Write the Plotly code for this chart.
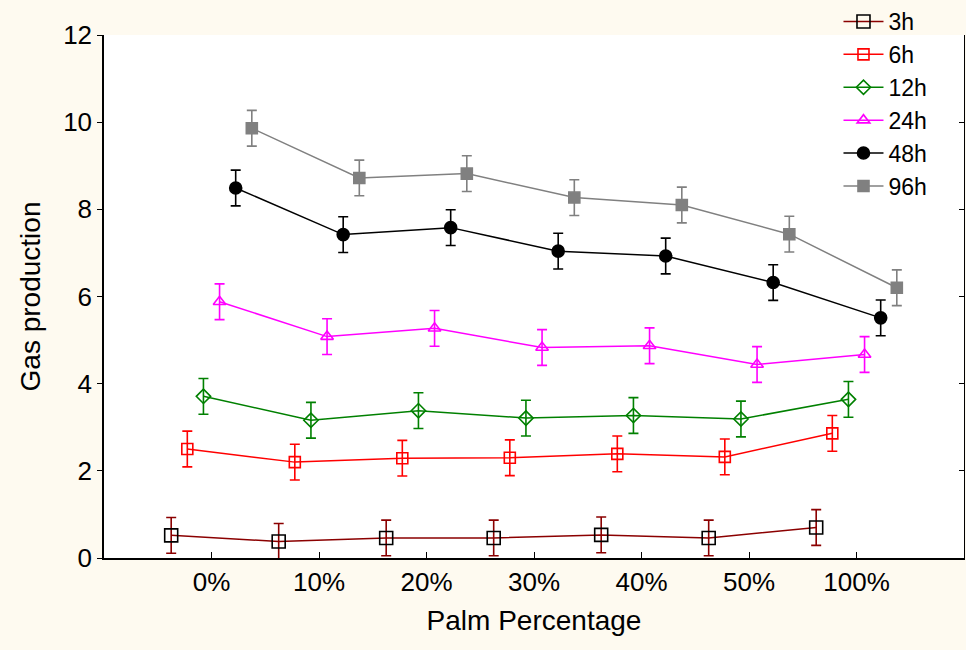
import plotly.graph_objects as go

categories = ["0%", "10%", "20%", "30%", "40%", "50%", "100%"]
series_names = ["3h", "6h", "12h", "24h", "48h", "96h"]

gas_3h = [0.52, 0.38, 0.46, 0.46, 0.53, 0.46, 0.70]
gas_6h = [2.50, 2.20, 2.29, 2.30, 2.39, 2.32, 2.86]
gas_12h = [3.71, 3.16, 3.38, 3.21, 3.27, 3.19, 3.64]
gas_24h = [5.88, 5.08, 5.27, 4.83, 4.87, 4.44, 4.67]
gas_48h = [8.49, 7.42, 7.58, 7.04, 6.93, 6.32, 5.51]
gas_96h = [9.86, 8.72, 8.82, 8.27, 8.10, 7.43, 6.20]

err_3h = [0.41, 0.41, 0.41, 0.41, 0.41, 0.41, 0.41]
err_6h = [0.41, 0.41, 0.41, 0.41, 0.41, 0.41, 0.41]
err_12h = [0.41, 0.41, 0.41, 0.41, 0.41, 0.41, 0.41]
err_24h = [0.41, 0.41, 0.41, 0.41, 0.41, 0.41, 0.41]
err_48h = [0.41, 0.41, 0.41, 0.41, 0.41, 0.41, 0.41]
err_96h = [0.41, 0.41, 0.41, 0.41, 0.41, 0.41, 0.41]

values = [gas_3h, gas_6h, gas_12h, gas_24h, gas_48h, gas_96h]
errors = [err_3h, err_6h, err_12h, err_24h, err_48h, err_96h]
offsets = [-0.375, -0.225, -0.075, 0.075, 0.225, 0.375]

line_colors = ["#8B0000", "#FF0000", "#008000", "#FF00FF", "#000000", "#808080"]
marker_colors = ["#000000", "#FF0000", "#008000", "#FF00FF", "#000000", "#808080"]
symbols = ["square-open", "square-open", "diamond-open", "triangle-up-open", "circle", "square"]
sizes = [13, 11, 11, 11, 12, 11]

FONT = "Liberation Sans, Arial, sans-serif"
BG = "#FEFAF0"

fig = go.Figure()
for name, vals, errs, off, lc, mc, sym, sz in zip(series_names, values, errors, offsets,
                                                  line_colors, marker_colors, symbols, sizes):
    xs = [i + off for i in range(len(categories))]
    fig.add_trace(go.Scatter(
        x=xs, y=vals, name=name, mode="lines+markers",
        line=dict(color=lc, width=1.5),
        marker=dict(symbol=sym, size=sz, color=mc, line=dict(color=mc, width=1.6)),
        error_y=dict(type="data", array=errs, visible=True, color=lc, thickness=1.6, width=5),
    ))

# invisible trace to host the mirrored right axis
fig.add_trace(go.Scatter(x=[None], y=[None], yaxis="y2", showlegend=False, hoverinfo="skip"))

fig.update_layout(
    width=966, height=650,
    paper_bgcolor=BG, plot_bgcolor="#FFFFFF",
    margin=dict(l=104, r=2, t=35, b=92, autoexpand=False),
    font=dict(family=FONT, size=26, color="#000000"),
    xaxis=dict(
        range=[-1, 7], tickvals=list(range(len(categories))), ticktext=categories,
        ticks="inside", ticklen=6, tickcolor="#000000", tickwidth=1,
        showline=True, linecolor="#000000", linewidth=1.5,
        showgrid=False, zeroline=False, automargin=False,
        title=dict(text="Palm Percentage", font=dict(size=28), standoff=14),
        tickfont=dict(size=26),
    ),
    yaxis=dict(
        range=[0, 12], tickvals=[0, 2, 4, 6, 8, 10, 12],
        ticks="outside", ticklen=5, tickcolor="#000000", tickwidth=1,
        showline=True, linecolor="#000000", linewidth=1.5,
        showgrid=False, zeroline=False, automargin=False,
        title=dict(text="Gas production", font=dict(size=28), standoff=14),
        tickfont=dict(size=26),
    ),
    yaxis2=dict(
        range=[0, 12], tickvals=[0, 2, 4, 6, 8, 10, 12], overlaying="y", side="right",
        ticks="inside", ticklen=5, tickcolor="#000000",
        showline=True, linecolor="#000000", linewidth=1,
        showticklabels=False, showgrid=False, zeroline=False, automargin=False,
    ),
    legend=dict(
        xref="container", yref="container",
        x=0.868, y=1.0, xanchor="left", yanchor="top",
        bgcolor="rgba(0,0,0,0)", font=dict(size=23),
        tracegroupgap=0, itemwidth=40,
    ),
    showlegend=True,
)

fig.write_html(
    "out.html",
    config={"displayModeBar": False},
    post_script=(
        "document.body.style.margin='0';"
        "document.body.style.overflow='hidden';"
        "document.body.style.background='" + BG + "';"
    ),
)
